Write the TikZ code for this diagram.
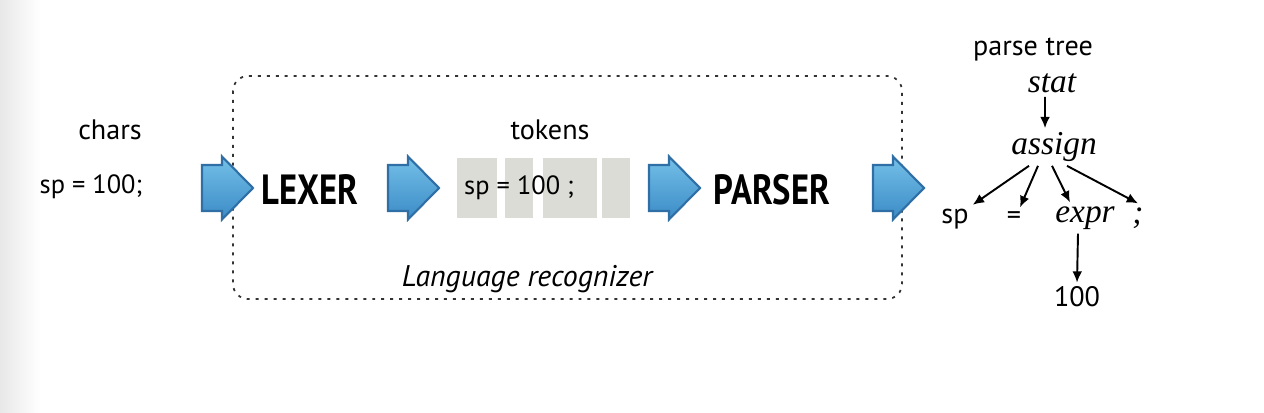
\documentclass[tikz,border=0pt]{standalone}
\usepackage{fontspec}
\setmainfont{PT Sans}
\newfontfamily\treefont{Liberation Serif}
\newfontfamily\stagefont[FakeStretch=0.82]{PT Sans Bold}
\usetikzlibrary{arrows,arrows.meta,shapes,calc,positioning}
\definecolor{arrowtop}{HTML}{74C0E8}
\definecolor{arrowbottom}{HTML}{3B8BC6}
\definecolor{arrowedge}{HTML}{2F6FA6}
\definecolor{tokgray}{HTML}{DCDCD7}
\tikzset{
    bigarrow/.pic={
        \draw[draw=arrowedge, line width=0.6pt, top color=arrowtop, bottom color=arrowbottom]
            (-26,-23) -- (-6,-23) -- (-6,-31.5) -- (25,0) -- (-6,31.5) -- (-6,23) -- (-26,23) -- cycle;
    },
    tokbox/.style={fill=tokgray, inner sep=0pt, minimum height=0.60cm},
    label/.style={font=\fontsize{8}{9}\selectfont, inner sep=1pt},
    stage/.style={font=\fontsize{12}{13}\selectfont\stagefont, inner sep=1pt},
    tree/.style={font=\fontsize{9.5}{10}\selectfont\treefont\itshape, inner sep=1pt},
    leaf/.style={font=\fontsize{8}{9}\selectfont, inner sep=1pt},
    treearrow/.style={-{Latex[length=3.2pt,width=2.8pt]}, line width=0.55pt}
}
\begin{document}
\begin{tikzpicture}[x=0.01cm, y=-0.01cm]
    \useasboundingbox (0,0) rectangle (1264,412); % page
    \shade[left color=black!9, right color=white] (0,0) rectangle (40,412); % left shade
    \draw[line width=0.5pt, black!80, dash pattern=on 0.85pt off 1.7pt, rounded corners=0.15cm] (233,76) rectangle (902,299); % recognizer frame
    \node[label] (chars) at (110,130) {chars}; % chars label
    \node[label, font=\fontsize{7.5}{9}\selectfont] (input) at (91,187) {sp = 100;}; % input text
    \pic at (228,188) {bigarrow}; % first arrow
    \node[stage] (lexer) at (310,190) {LEXER}; % lexer
    \pic at (414,188) {bigarrow}; % second arrow
    \node[tokbox, minimum width=0.40cm] (tb1) at (477,188) {}; % token boxes
    \node[tokbox, minimum width=0.28cm] (tb2) at (519,188) {};
    \node[tokbox, minimum width=0.54cm] (tb3) at (570,188) {};
    \node[tokbox, minimum width=0.28cm] (tb4) at (616,188) {};
    \node[label, font=\fontsize{7.5}{9}\selectfont, anchor=west] (toks) at (460,188) {sp = 100 ;}; % token text
    \node[label] (tokens) at (550,130) {tokens}; % tokens label
    \pic at (675,188) {bigarrow}; % third arrow
    \node[stage] (parser) at (772,190) {PARSER}; % parser
    \pic at (899,188) {bigarrow}; % fourth arrow
    \node[label, font=\fontsize{8.5}{9}\selectfont\itshape] (recog) at (527,279) {Language recognizer}; % frame label
    \node[label] (ptree) at (1033,50) {parse tree}; % tree label
    \node[tree] (stat) at (1052,83) {stat}; % root
    \node[tree] (assign) at (1054,147) {assign};
    \node[leaf] (sp) at (955,219) {sp};
    \node[leaf] (eq) at (1014,218) {=};
    \node[tree] (expr) at (1085,218) {expr};
    \node[tree] (semi) at (1138,218) {;};
    \node[leaf] (hundred) at (1077,297) {100};
    \draw[treearrow] ([xshift=-0.07cm]stat.south) -- ([xshift=-0.09cm]assign.north); % stat -> assign
    \draw[treearrow] ([xshift=-0.25cm]assign.south) -- (sp.north east); % children
    \draw[treearrow] ([xshift=-0.16cm]assign.south) -- ([xshift=0.06cm]eq.north);
    \draw[treearrow] ([xshift=-0.02cm]assign.south) -- ([xshift=-0.15cm]expr.north);
    \draw[treearrow] ([xshift=0.13cm]assign.south) -- (semi.north);
    \draw[treearrow] ([xshift=-0.07cm]expr.south) -- (hundred.north); % expr -> 100
\end{tikzpicture}
\end{document}
